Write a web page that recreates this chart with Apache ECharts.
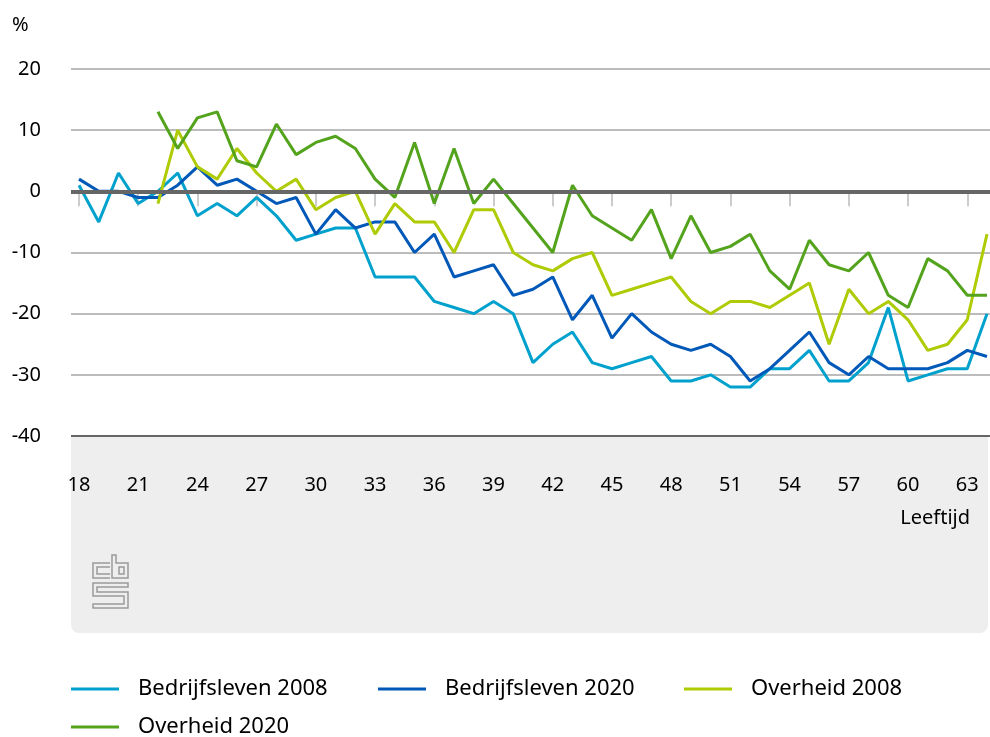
<!DOCTYPE html>
<html>
<head>
<meta charset="utf-8">
<script src="https://cdn.jsdelivr.net/npm/echarts@6/dist/echarts.min.js"></script>
<style>
  html, body { margin: 0; padding: 0; background: #fff; }
  #chart { width: 990px; height: 737px; }
</style>
</head>
<body>
<div id="chart"></div>
<script>
// leeftijden 18 t/m 64
const ages = ['18','19','20','21','22','23','24','25','26','27','28','29','30','31','32','33','34','35','36','37',
  '38','39','40','41','42','43','44','45','46','47','48','49','50','51','52','53','54','55','56','57',
  '58','59','60','61','62','63','64'];

const bedrijfsleven2008 = [1,-5,3,-2,0,3,-4,-2,-4,-1,-4,-8,-7,-6,-6,-14,-14,-14,-18,-19,
  -20,-18,-20,-28,-25,-23,-28,-29,-28,-27,-31,-31,-30,-32,-32,-29,-29,-26,-31,-31,
  -28,-19,-31,-30,-29,-29,-20];
const bedrijfsleven2020 = [2,0,0,-1,-1,1,4,1,2,0,-2,-1,-7,-3,-6,-5,-5,-10,-7,-14,
  -13,-12,-17,-16,-14,-21,-17,-24,-20,-23,-25,-26,-25,-27,-31,-29,-26,-23,-28,-30,
  -27,-29,-29,-29,-28,-26,-27];
const overheid2008 = [null,null,null,null,-2,10,4,2,7,3,0,2,-3,-1,0,-7,-2,-5,-5,-10,
  -3,-3,-10,-12,-13,-11,-10,-17,-16,-15,-14,-18,-20,-18,-18,-19,-17,-15,-25,-16,
  -20,-18,-21,-26,-25,-21,-7];
const overheid2020 = [null,null,null,null,13,7,12,13,5,4,11,6,8,9,7,2,-1,8,-2,7,
  -2,2,-2,-6,-10,1,-4,-6,-8,-3,-11,-4,-10,-9,-7,-13,-16,-8,-12,-13,
  -10,-17,-19,-11,-13,-17,-17];

const seriesNames = ['Bedrijfsleven 2008', 'Bedrijfsleven 2020', 'Overheid 2008', 'Overheid 2020'];
const colors = ['#00a1cd', '#0058b8', '#afcb05', '#53a31d'];
const yTicks = [-40, 20, 10];

const font = '"Noto Sans", "DejaVu Sans", sans-serif';
const chart = echarts.init(document.getElementById('chart'));

const legendPos = [[71, 678], [378, 678], [684, 678], [71, 716]];

let option = {
  animation: false,
  color: colors,
  textStyle: { fontFamily: font },
  grid: [
    { left: 79, right: 3, top: 69, bottom: 301 },
    { left: 71, right: 0, top: 69, bottom: 301 }
  ],
  xAxis: [
    {
      type: 'category',
      gridIndex: 0,
      boundaryGap: false,
      data: ages,
      axisLine: { show: false },
      axisTick: { show: true, interval: 2, length: 15, lineStyle: { color: '#cccccc', width: 2 } },
      axisLabel: { interval: 2, margin: 39, fontSize: 20, color: '#000', fontFamily: font },
      splitLine: { show: false }
    },
    { type: 'value', gridIndex: 1, min: 0, max: 1, show: false }
  ],
  yAxis: [
    { type: 'value', gridIndex: 0, min: yTicks[0], max: yTicks[1], interval: yTicks[2], show: false },
    {
      type: 'value',
      gridIndex: 1,
      min: yTicks[0],
      max: yTicks[1],
      interval: yTicks[2],
      axisLine: { show: false },
      axisTick: { show: false },
      axisLabel: { margin: 30, fontSize: 20, color: '#000', fontFamily: font },
      splitLine: { lineStyle: { color: '#a6a6a6', width: 1.5 } }
    }
  ],
  legend: seriesNames.map((n, i) => ({
    data: [n],
    left: legendPos[i][0],
    top: legendPos[i][1],
    padding: 0,
    icon: 'rect',
    itemWidth: 48,
    itemHeight: 3,
    textStyle: { fontSize: 22, color: '#000', fontFamily: font, padding: [0, 0, 0, 14] }
  })),
  graphic: [
    {
      type: 'rect', z: -1, silent: true,
      shape: { x: 71, y: 437, width: 917, height: 196, r: [0, 0, 8, 8] },
      style: { fill: '#eeeeee' }
    },
    {
      type: 'text', left: 12, top: 15,
      style: { text: '%', fill: '#000', font: '20px ' + font }
    },
    {
      type: 'text', right: 20, top: 508,
      style: { text: 'Leeftijd', fill: '#000', font: '20px ' + font }
    },
    // cbs logo
    {
      type: 'group', silent: true,
      children: [
        { type: 'polyline', shape: { points: [[110,563],[93,563],[93,578],[110,578]] }, style: { stroke: '#9a9a9a', lineWidth: 1.5, fill: null } },
        { type: 'polyline', shape: { points: [[110,567],[97,567],[97,574],[110,574]] }, style: { stroke: '#9a9a9a', lineWidth: 1.5, fill: null } },
        { type: 'polygon', shape: { points: [[112,555],[116,555],[116,563],[128,563],[128,578],[112,578]] }, style: { stroke: '#9a9a9a', lineWidth: 1.5, fill: null } },
        { type: 'rect', shape: { x: 119, y: 567, width: 5, height: 7 }, style: { stroke: '#9a9a9a', lineWidth: 1.5, fill: null } },
        { type: 'polygon', shape: { points: [[128,583],[93,583],[93,596],[124,596],[124,604],[93,604],[93,608],[128,608],[128,592],[97,592],[97,587],[128,587]] }, style: { stroke: '#9a9a9a', lineWidth: 1.5, fill: null } }
      ]
    }
  ],
  series: [
    {
      type: 'line',
      xAxisIndex: 1,
      yAxisIndex: 1,
      data: [],
      silent: true,
      z: 1,
      markLine: {
        silent: true,
        symbol: ['none', 'none'],
        label: { show: false },
        data: [
          { yAxis: 0, lineStyle: { color: '#666666', width: 4, type: 'solid' } },
          { yAxis: -40, lineStyle: { color: '#666666', width: 2, type: 'solid' } }
        ]
      }
    },
    { name: seriesNames[0], type: 'line', data: bedrijfsleven2008 },
    { name: seriesNames[1], type: 'line', data: bedrijfsleven2020 },
    { name: seriesNames[2], type: 'line', data: overheid2008 },
    { name: seriesNames[3], type: 'line', data: overheid2020 }
  ].map((s, i) => i === 0 ? s : Object.assign(s, {
    symbol: 'none',
    lineStyle: { width: 3, color: colors[i - 1] },
    itemStyle: { color: colors[i - 1] },
    z: 3
  }))
};

if (option && typeof option === 'object') {
  chart.setOption(option, false);
}
</script>
</body>
</html>
